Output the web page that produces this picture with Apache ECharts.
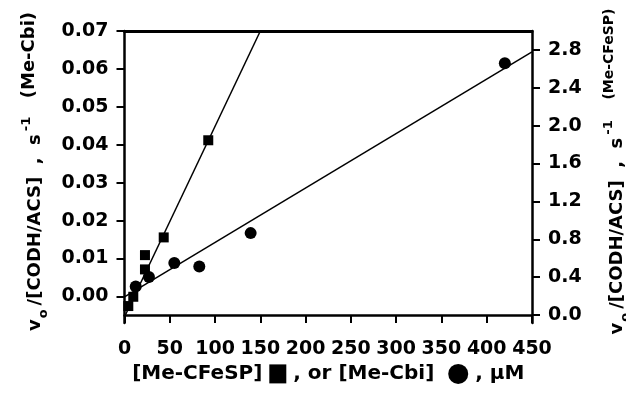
<!DOCTYPE html>
<html>
<head>
<meta charset="utf-8">
<script src="https://cdn.jsdelivr.net/npm/echarts@6/dist/echarts.min.js"></script>
<style>html,body{margin:0;padding:0;background:#fff}#c{width:626px;height:398px}</style>
</head>
<body>
<div id="c"></div>
<script>
// Me-CFeSP (squares, right axis)
const cfespX = [4.2, 9.7, 22.6, 22.6, 43.3, 92.5];
const cfespY = [0.095, 0.193, 0.482, 0.633, 0.82, 1.846];
// Me-Cbi (circles, left axis)
const cbiX = [12.4, 27.0, 55.0, 82.6, 139.3, 420.0];
const cbiY = [0.0026, 0.0051, 0.0088, 0.0079, 0.0167, 0.0615];
// fitted lines (endpoints)
const cfespFitX = [1, 150];
const cfespFitY = [0, 3.0];
const cbiFitX = [0, 450];
const cbiFitY = [-0.0001, 0.0645];
// tick labels
const xTicks = [0, 50, 100, 150, 200, 250, 300, 350, 400, 450];
const leftTicks = [0, 0.01, 0.02, 0.03, 0.04, 0.05, 0.06, 0.07];
const rightTicks = [0, 0.4, 0.8, 1.2, 1.6, 2.0, 2.4, 2.8];

const zip = (a, b) => a.map((v, i) => [v, b[i]]);
const FONT = 'DejaVu Sans';
const lblStyle = { color: '#000', fontFamily: FONT, fontWeight: 'bold', fontSize: 19 };

const yTitleRich = {
  v: { fontFamily: FONT, fontWeight: 'bold', fontSize: 18, color: '#000', lineHeight: 22, padding: [0, 0, 0, 11] },
  m: { fontFamily: FONT, fontWeight: 'bold', fontSize: 18, color: '#000', lineHeight: 22 },
  sub: { fontFamily: FONT, fontWeight: 'bold', fontSize: 13, color: '#000', lineHeight: 30, verticalAlign: 'bottom', padding: [0, 4, 0, 1] },
  sup: { fontFamily: FONT, fontWeight: 'bold', fontSize: 13, color: '#000', lineHeight: 12, verticalAlign: 'top', padding: [0, 6, 0, 3] },
  s: { fontFamily: FONT, fontWeight: 'bold', fontSize: 18, color: '#000', lineHeight: 17, verticalAlign: 'top' },
  s2: { fontFamily: FONT, fontWeight: 'bold', fontSize: 14, color: '#000', lineHeight: 15, verticalAlign: 'top' }
};

const chart = echarts.init(document.getElementById('c'), null, { renderer: 'canvas' });
chart.setOption({
  backgroundColor: '#fff',
  animation: false,
  grid: { left: 124.5, right: 94, top: 31, bottom: 75, containLabel: false, outerBoundsMode: 'none' },
  xAxis: [{
    type: 'value', min: 0, max: 450, interval: 50,
    axisLine: { show: true, onZero: true, onZeroAxisIndex: 1, lineStyle: { color: '#000', width: 2.5 } },
    axisTick: { show: true, inside: false, length: 8, customValues: xTicks, lineStyle: { color: '#000', width: 2 } },
    axisLabel: { ...lblStyle, margin: 17, customValues: xTicks },
    splitLine: { show: false },
    name: '{t|[Me-CFeSP] }{sq| }{t| , or [Me-Cbi]  }{ci| }{t| , μM}',
    nameLocation: 'middle', nameGap: 36,
    nameTextStyle: {
      rich: {
        t: { fontFamily: FONT, fontWeight: 'bold', fontSize: 20, color: '#000' },
        sq: { width: 17, height: 19, backgroundColor: '#000' },
        ci: { width: 20, height: 20, borderRadius: 10, backgroundColor: '#000' }
      }
    }
  }, {
    type: 'value', min: 0, max: 450, position: 'top',
    axisLine: { show: true, onZero: false, lineStyle: { color: '#000', width: 3 } },
    axisTick: { show: false }, axisLabel: { show: false }, splitLine: { show: false }
  }],
  yAxis: [{
    type: 'value', min: -0.007, max: 0.07, position: 'left',
    axisLine: { show: true, onZero: false, lineStyle: { color: '#000', width: 2.5 } },
    axisTick: { show: true, length: 8, customValues: leftTicks, lineStyle: { color: '#000', width: 2 } },
    axisLabel: { ...lblStyle, margin: 16, customValues: leftTicks, formatter: v => v.toFixed(2) },
    splitLine: { show: false },
    name: '{v|v}{sub|o}{m|/[CODH/ACS]  ,  s}{sup|-1}{s|  (Me-Cbi)}',
    nameLocation: 'middle', nameRotate: 90, nameGap: 74,
    nameTextStyle: { rich: yTitleRich }
  }, {
    type: 'value', min: -0.084, max: 3.0, position: 'right',
    axisLine: { show: true, onZero: false, lineStyle: { color: '#000', width: 2.5 } },
    axisTick: { show: true, length: 8, customValues: rightTicks, lineStyle: { color: '#000', width: 2 } },
    axisLabel: { ...lblStyle, margin: 16, customValues: rightTicks, formatter: v => v.toFixed(1) },
    splitLine: { show: false },
    name: '{v|v}{sub|o}{m|/[CODH/ACS]  ,  s}{sup|-1}{s2|   (Me-CFeSP)}',
    nameLocation: 'middle', nameRotate: 90, nameGap: 70,
    nameTextStyle: { rich: yTitleRich }
  }],
  series: [
    { type: 'line', yAxisIndex: 1, data: zip(cfespFitX, cfespFitY), showSymbol: false, symbol: 'none',
      lineStyle: { color: '#000', width: 1.5 }, silent: true, z: 1 },
    { type: 'line', yAxisIndex: 0, data: zip(cbiFitX, cbiFitY), showSymbol: false, symbol: 'none',
      lineStyle: { color: '#000', width: 1.5 }, silent: true, z: 1 },
    { type: 'scatter', yAxisIndex: 1, data: zip(cfespX, cfespY), symbol: 'rect', symbolSize: 10,
      itemStyle: { color: '#000', opacity: 1 }, z: 3 },
    { type: 'scatter', yAxisIndex: 0, data: zip(cbiX, cbiY), symbol: 'circle', symbolSize: 12,
      itemStyle: { color: '#000', opacity: 1 }, z: 3 }
  ]
});
</script>
</body>
</html>
